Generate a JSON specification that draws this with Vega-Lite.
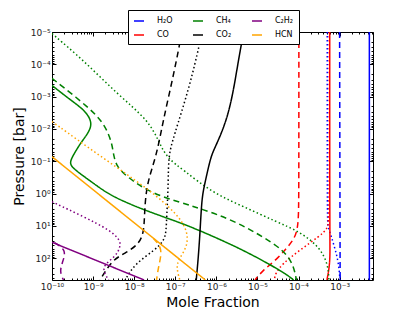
{
  "$schema": "https://vega.github.io/schema/vega-lite/v6.json",
  "width": 321,
  "height": 248,
  "autosize": {"type": "none"},
  "padding": {"left": 52, "top": 32, "right": 42, "bottom": 32},
  "background": "white",
  "config": {
    "view": {"stroke": "black", "strokeWidth": 1},
    "font": "DejaVu Sans",
    "axis": {"grid": false, "domain": false, "labelFont": "DejaVu Sans", "labelFontSize": 9, "labelColor": "#222222", "titleFont": "DejaVu Sans", "titleFontSize": 14, "titleFontWeight": "normal", "titleColor": "black", "tickColor": "black", "labelOverlap": false, "labelFlush": false, "labelBound": false}
  },
  "data": {"values": [
    {"s":"H₂O","m":"solid","i":1,"x":5.3e-3,"p":1e-5},
    {"s":"H₂O","m":"solid","i":2,"x":5.3e-3,"p":470},
    {"s":"H₂O","m":"dashed","i":1,"x":1.0e-3,"p":1e-5},
    {"s":"H₂O","m":"dashed","i":2,"x":1.03e-3,"p":470},
    {"s":"H₂O","m":"dotted","i":1,"x":5.0e-4,"p":1e-5},
    {"s":"H₂O","m":"dotted","i":2,"x":5.0e-4,"p":6},
    {"s":"H₂O","m":"dotted","i":3,"x":5.2e-4,"p":11},
    {"s":"H₂O","m":"dotted","i":4,"x":6.3e-4,"p":21},
    {"s":"H₂O","m":"dotted","i":5,"x":7.9e-4,"p":56},
    {"s":"H₂O","m":"dotted","i":6,"x":9.5e-4,"p":145},
    {"s":"H₂O","m":"dotted","i":7,"x":1.02e-3,"p":470},

    {"s":"CO","m":"dotted","i":1,"x":5.6e-4,"p":1e-5},
    {"s":"CO","m":"dotted","i":2,"x":5.6e-4,"p":6},
    {"s":"CO","m":"dotted","i":3,"x":5.2e-4,"p":12},
    {"s":"CO","m":"dotted","i":4,"x":3.2e-4,"p":21},
    {"s":"CO","m":"dotted","i":5,"x":1.07e-4,"p":56},
    {"s":"CO","m":"dotted","i":6,"x":4.0e-5,"p":150},
    {"s":"CO","m":"dotted","i":7,"x":2.7e-5,"p":300},
    {"s":"CO","m":"dotted","i":8,"x":2.6e-5,"p":470},
    {"s":"CO","m":"solid","i":1,"x":5.75e-4,"p":1e-5},
    {"s":"CO","m":"solid","i":2,"x":5.75e-4,"p":13.5},
    {"s":"CO","m":"solid","i":3,"x":5.9e-4,"p":89},
    {"s":"CO","m":"solid","i":4,"x":5.5e-4,"p":229},
    {"s":"CO","m":"solid","i":5,"x":4.9e-4,"p":470},
    {"s":"CO","m":"dashed","i":1,"x":1.02e-4,"p":1e-5},
    {"s":"CO","m":"dashed","i":2,"x":1.02e-4,"p":1.0},
    {"s":"CO","m":"dashed","i":3,"x":1.0e-4,"p":10},
    {"s":"CO","m":"dashed","i":4,"x":8.0e-5,"p":25},
    {"s":"CO","m":"dashed","i":5,"x":5.0e-5,"p":50},
    {"s":"CO","m":"dashed","i":6,"x":2.9e-5,"p":112},
    {"s":"CO","m":"dashed","i":7,"x":1.38e-5,"p":229},
    {"s":"CO","m":"dashed","i":8,"x":8.7e-6,"p":470},

    {"s":"CH₄","m":"solid","i":1,"x":1e-10,"p":4.5e-4},
    {"s":"CH₄","m":"solid","i":2,"x":2.8e-10,"p":1.26e-3},
    {"s":"CH₄","m":"solid","i":3,"x":6.2e-10,"p":2.6e-3},
    {"s":"CH₄","m":"solid","i":4,"x":9.5e-10,"p":5.9e-3},
    {"s":"CH₄","m":"solid","i":5,"x":8.2e-10,"p":1.2e-2},
    {"s":"CH₄","m":"solid","i":6,"x":4.9e-10,"p":2.75e-2},
    {"s":"CH₄","m":"solid","i":7,"x":3.2e-10,"p":6.9e-2},
    {"s":"CH₄","m":"solid","i":8,"x":2.6e-10,"p":0.12},
    {"s":"CH₄","m":"solid","i":9,"x":3.7e-10,"p":0.19},
    {"s":"CH₄","m":"solid","i":10,"x":1.05e-9,"p":0.49},
    {"s":"CH₄","m":"solid","i":11,"x":2.9e-9,"p":1.26},
    {"s":"CH₄","m":"solid","i":12,"x":2.45e-8,"p":3.8},
    {"s":"CH₄","m":"solid","i":13,"x":1.58e-7,"p":8.5},
    {"s":"CH₄","m":"solid","i":14,"x":9.1e-7,"p":22},
    {"s":"CH₄","m":"solid","i":15,"x":4.5e-6,"p":56},
    {"s":"CH₄","m":"solid","i":16,"x":1.9e-5,"p":150},
    {"s":"CH₄","m":"solid","i":17,"x":5.0e-5,"p":309},
    {"s":"CH₄","m":"solid","i":18,"x":7.6e-5,"p":470},
    {"s":"CH₄","m":"dashed","i":1,"x":1e-10,"p":2.7e-4},
    {"s":"CH₄","m":"dashed","i":2,"x":8.5e-10,"p":2.3e-3},
    {"s":"CH₄","m":"dashed","i":3,"x":1.95e-9,"p":7.4e-3},
    {"s":"CH₄","m":"dashed","i":4,"x":2.9e-9,"p":2.75e-2},
    {"s":"CH₄","m":"dashed","i":5,"x":3.16e-9,"p":6.9e-2},
    {"s":"CH₄","m":"dashed","i":6,"x":3.8e-9,"p":0.148},
    {"s":"CH₄","m":"dashed","i":7,"x":6.6e-9,"p":0.30},
    {"s":"CH₄","m":"dashed","i":8,"x":2.45e-8,"p":0.95},
    {"s":"CH₄","m":"dashed","i":9,"x":1.58e-7,"p":2.0},
    {"s":"CH₄","m":"dashed","i":10,"x":4.0e-7,"p":2.9},
    {"s":"CH₄","m":"dashed","i":11,"x":2.6e-6,"p":6.6},
    {"s":"CH₄","m":"dashed","i":12,"x":1.66e-5,"p":25},
    {"s":"CH₄","m":"dashed","i":13,"x":4.2e-5,"p":56},
    {"s":"CH₄","m":"dashed","i":14,"x":7.4e-5,"p":145},
    {"s":"CH₄","m":"dashed","i":15,"x":8.9e-5,"p":470},
    {"s":"CH₄","m":"dotted","i":1,"x":1e-10,"p":1.12e-5},
    {"s":"CH₄","m":"dotted","i":2,"x":5.9e-10,"p":7.6e-5},
    {"s":"CH₄","m":"dotted","i":3,"x":3.8e-9,"p":8.1e-4},
    {"s":"CH₄","m":"dotted","i":4,"x":2.24e-8,"p":5.4e-3},
    {"s":"CH₄","m":"dotted","i":5,"x":4.0e-8,"p":2.5e-2},
    {"s":"CH₄","m":"dotted","i":6,"x":6.3e-8,"p":7.9e-2},
    {"s":"CH₄","m":"dotted","i":7,"x":1.58e-7,"p":0.186},
    {"s":"CH₄","m":"dotted","i":8,"x":7.9e-7,"p":0.93},
    {"s":"CH₄","m":"dotted","i":9,"x":4.5e-6,"p":2.5},
    {"s":"CH₄","m":"dotted","i":10,"x":2.9e-5,"p":7.4},
    {"s":"CH₄","m":"dotted","i":11,"x":1.07e-4,"p":15},
    {"s":"CH₄","m":"dotted","i":12,"x":3.2e-4,"p":44},
    {"s":"CH₄","m":"dotted","i":13,"x":5.2e-4,"p":145},
    {"s":"CH₄","m":"dotted","i":14,"x":5.5e-4,"p":470},

    {"s":"CO₂","m":"solid","i":1,"x":4.6e-6,"p":1e-5},
    {"s":"CO₂","m":"solid","i":2,"x":3.3e-6,"p":1.05e-4},
    {"s":"CO₂","m":"solid","i":3,"x":2.5e-6,"p":8.9e-4},
    {"s":"CO₂","m":"solid","i":4,"x":1.74e-6,"p":5.9e-3},
    {"s":"CO₂","m":"solid","i":5,"x":1.0e-6,"p":3.1e-2},
    {"s":"CO₂","m":"solid","i":6,"x":7.6e-7,"p":6.3e-2},
    {"s":"CO₂","m":"solid","i":7,"x":6.2e-7,"p":0.186},
    {"s":"CO₂","m":"solid","i":8,"x":5.0e-7,"p":0.63},
    {"s":"CO₂","m":"solid","i":9,"x":4.4e-7,"p":1.58},
    {"s":"CO₂","m":"solid","i":10,"x":4.0e-7,"p":17},
    {"s":"CO₂","m":"solid","i":11,"x":3.6e-7,"p":112},
    {"s":"CO₂","m":"solid","i":12,"x":3.24e-7,"p":470},
    {"s":"CO₂","m":"dashed","i":1,"x":1.45e-7,"p":1e-5},
    {"s":"CO₂","m":"dashed","i":2,"x":9.5e-8,"p":1.7e-4},
    {"s":"CO₂","m":"dashed","i":3,"x":5.0e-8,"p":5.9e-3},
    {"s":"CO₂","m":"dashed","i":4,"x":3.5e-8,"p":6.9e-2},
    {"s":"CO₂","m":"dashed","i":5,"x":2.0e-8,"p":0.49},
    {"s":"CO₂","m":"dashed","i":6,"x":1.78e-8,"p":4.1},
    {"s":"CO₂","m":"dashed","i":7,"x":1.74e-8,"p":13.5},
    {"s":"CO₂","m":"dashed","i":8,"x":1.38e-8,"p":35},
    {"s":"CO₂","m":"dashed","i":9,"x":6.0e-9,"p":71},
    {"s":"CO₂","m":"dashed","i":10,"x":2.9e-9,"p":112},
    {"s":"CO₂","m":"dashed","i":11,"x":1.48e-9,"p":470},
    {"s":"CO₂","m":"dotted","i":1,"x":4.6e-7,"p":1e-5},
    {"s":"CO₂","m":"dotted","i":2,"x":4.0e-7,"p":2.0e-5},
    {"s":"CO₂","m":"dotted","i":3,"x":2.3e-7,"p":4.4e-4},
    {"s":"CO₂","m":"dotted","i":4,"x":8.9e-8,"p":1.95e-2},
    {"s":"CO₂","m":"dotted","i":5,"x":6.8e-8,"p":6.9e-2},
    {"s":"CO₂","m":"dotted","i":6,"x":6.8e-8,"p":0.49},
    {"s":"CO₂","m":"dotted","i":7,"x":6.2e-8,"p":5.2},
    {"s":"CO₂","m":"dotted","i":8,"x":6.0e-8,"p":13.5},
    {"s":"CO₂","m":"dotted","i":9,"x":5.5e-8,"p":27.5},
    {"s":"CO₂","m":"dotted","i":10,"x":3.2e-8,"p":56},
    {"s":"CO₂","m":"dotted","i":11,"x":1.05e-8,"p":145},
    {"s":"CO₂","m":"dotted","i":12,"x":6.0e-9,"p":470},

    {"s":"C₂H₂","m":"solid","i":1,"x":1e-10,"p":32},
    {"s":"C₂H₂","m":"solid","i":2,"x":1.74e-8,"p":470},
    {"s":"C₂H₂","m":"dashed","i":1,"x":1.15e-10,"p":33},
    {"s":"C₂H₂","m":"dashed","i":2,"x":2.3e-10,"p":56},
    {"s":"C₂H₂","m":"dashed","i":3,"x":1.74e-10,"p":145},
    {"s":"C₂H₂","m":"dashed","i":4,"x":1.55e-10,"p":263},
    {"s":"C₂H₂","m":"dashed","i":5,"x":1.9e-10,"p":470},
    {"s":"C₂H₂","m":"dotted","i":1,"x":1e-10,"p":1.78},
    {"s":"C₂H₂","m":"dotted","i":2,"x":5.9e-10,"p":5.2},
    {"s":"C₂H₂","m":"dotted","i":3,"x":2.6e-9,"p":13.5},
    {"s":"C₂H₂","m":"dotted","i":4,"x":4.6e-9,"p":27.5},
    {"s":"C₂H₂","m":"dotted","i":5,"x":4.6e-9,"p":45},
    {"s":"C₂H₂","m":"dotted","i":6,"x":3.5e-9,"p":91},
    {"s":"C₂H₂","m":"dotted","i":7,"x":1.5e-9,"p":186},
    {"s":"C₂H₂","m":"dotted","i":8,"x":2.4e-9,"p":470},

    {"s":"HCN","m":"solid","i":1,"x":1e-10,"p":0.072},
    {"s":"HCN","m":"solid","i":2,"x":5.4e-7,"p":470},
    {"s":"HCN","m":"dashed","i":1,"x":2.95e-8,"p":24.5},
    {"s":"HCN","m":"dashed","i":2,"x":5.0e-8,"p":50},
    {"s":"HCN","m":"dashed","i":3,"x":3.9e-8,"p":182},
    {"s":"HCN","m":"dashed","i":4,"x":3.5e-8,"p":470},
    {"s":"HCN","m":"dotted","i":1,"x":1e-10,"p":5.9e-3},
    {"s":"HCN","m":"dotted","i":2,"x":1.48e-9,"p":6.9e-2},
    {"s":"HCN","m":"dotted","i":3,"x":2.45e-8,"p":0.78},
    {"s":"HCN","m":"dotted","i":4,"x":1.07e-7,"p":4.1},
    {"s":"HCN","m":"dotted","i":5,"x":2.0e-7,"p":13.5},
    {"s":"HCN","m":"dotted","i":6,"x":2.0e-7,"p":44},
    {"s":"HCN","m":"dotted","i":7,"x":1.17e-7,"p":112},
    {"s":"HCN","m":"dotted","i":8,"x":1.07e-7,"p":204},
    {"s":"HCN","m":"dotted","i":9,"x":1.29e-7,"p":470}
  ]},
  "layer": [
    {
      "mark": {"type": "line", "clip": true, "interpolate": "basis"},
      "encoding": {
        "x": {"field": "x", "type": "quantitative", "scale": {"type": "log", "domain": [1e-10, 6.5e-3], "nice": false},
          "axis": {"orient": "bottom", "title": "Mole Fraction", "titlePadding": 2,
            "values": [1e-10,2e-10,3e-10,4e-10,5e-10,6e-10,7e-10,8e-10,9e-10,1e-9,2e-9,3e-9,4e-9,5e-9,6e-9,7e-9,8e-9,9e-9,1e-8,2e-8,3e-8,4e-8,5e-8,6e-8,7e-8,8e-8,9e-8,1e-7,2e-7,3e-7,4e-7,5e-7,6e-7,7e-7,8e-7,9e-7,1e-6,2e-6,3e-6,4e-6,5e-6,6e-6,7e-6,8e-6,9e-6,1e-5,2e-5,3e-5,4e-5,5e-5,6e-5,7e-5,8e-5,9e-5,1e-4,2e-4,3e-4,4e-4,5e-4,6e-4,7e-4,8e-4,9e-4,1e-3,2e-3,3e-3,4e-3,5e-3,6e-3],
            "labelExpr": "abs(log(datum.value)/LN10 - round(log(datum.value)/LN10)) < 0.001 ? ['10⁻¹⁰','10⁻⁹','10⁻⁸','10⁻⁷','10⁻⁶','10⁻⁵','10⁻⁴','10⁻³'][round(log(datum.value)/LN10)+10] : ''",
            "tickSize": {"condition": {"test": "abs(log(datum.value)/LN10 - round(log(datum.value)/LN10)) < 0.001", "value": -4}, "value": -2},
            "labelPadding": 6}},
        "y": {"field": "p", "type": "quantitative", "scale": {"type": "log", "domain": [1e-5, 470], "nice": false, "reverse": true},
          "axis": {"orient": "left", "title": "Pressure [bar]", "titlePadding": 4,
            "values": [1e-5,2e-5,3e-5,4e-5,5e-5,6e-5,7e-5,8e-5,9e-5,1e-4,2e-4,3e-4,4e-4,5e-4,6e-4,7e-4,8e-4,9e-4,1e-3,2e-3,3e-3,4e-3,5e-3,6e-3,7e-3,8e-3,9e-3,1e-2,2e-2,3e-2,4e-2,5e-2,6e-2,7e-2,8e-2,9e-2,0.1,0.2,0.3,0.4,0.5,0.6,0.7,0.8,0.9,1,2,3,4,5,6,7,8,9,10,20,30,40,50,60,70,80,90,100,200,300,400],
            "labelExpr": "abs(log(datum.value)/LN10 - round(log(datum.value)/LN10)) < 0.001 ? ['10⁻⁵','10⁻⁴','10⁻³','10⁻²','10⁻¹','10⁰','10¹','10²'][round(log(datum.value)/LN10)+5] : ''",
            "tickSize": {"condition": {"test": "abs(log(datum.value)/LN10 - round(log(datum.value)/LN10)) < 0.001", "value": -4}, "value": -2},
            "labelPadding": 6}},
        "color": {"field": "s", "type": "nominal",
          "scale": {"domain": ["H₂O","CH₄","C₂H₂","CO","CO₂","HCN"], "range": ["#0000ff","#008000","#800080","#ff0000","#000000","#ffa500"]},
          "legend": {"title": null, "orient": "none", "legendX": 76, "legendY": -22, "columns": 3, "direction": "horizontal", "symbolType": "stroke", "symbolStrokeWidth": 1.5, "symbolSize": 100, "labelFont": "DejaVu Sans", "labelFontSize": 8, "labelColor": "black", "strokeColor": "black", "fillColor": "white", "padding": 5, "columnPadding": 17, "rowPadding": 4, "labelOffset": 12}},
        "strokeDash": {"field": "m", "type": "nominal", "scale": {"domain": ["solid","dashed","dotted"], "range": [[1,0],[6,4],[1.5,2.5]]}, "legend": null},
        "strokeWidth": {"field": "m", "type": "nominal", "scale": {"domain": ["solid","dashed","dotted"], "range": [1.5,1.5,1]}, "legend": null},
        "order": {"field": "i", "type": "quantitative"}
      }
    },
    {
      "mark": {"type": "line", "opacity": 0},
      "encoding": {
        "x": {"field": "x", "type": "quantitative",
          "axis": {"orient": "top", "title": null, "labels": false,
            "values": [1e-10,2e-10,3e-10,4e-10,5e-10,6e-10,7e-10,8e-10,9e-10,1e-9,2e-9,3e-9,4e-9,5e-9,6e-9,7e-9,8e-9,9e-9,1e-8,2e-8,3e-8,4e-8,5e-8,6e-8,7e-8,8e-8,9e-8,1e-7,2e-7,3e-7,4e-7,5e-7,6e-7,7e-7,8e-7,9e-7,1e-6,2e-6,3e-6,4e-6,5e-6,6e-6,7e-6,8e-6,9e-6,1e-5,2e-5,3e-5,4e-5,5e-5,6e-5,7e-5,8e-5,9e-5,1e-4,2e-4,3e-4,4e-4,5e-4,6e-4,7e-4,8e-4,9e-4,1e-3,2e-3,3e-3,4e-3,5e-3,6e-3],
            "tickSize": {"condition": {"test": "abs(log(datum.value)/LN10 - round(log(datum.value)/LN10)) < 0.001", "value": -4}, "value": -2}}},
        "y": {"field": "p", "type": "quantitative",
          "axis": {"orient": "right", "title": null, "labels": false,
            "values": [1e-5,2e-5,3e-5,4e-5,5e-5,6e-5,7e-5,8e-5,9e-5,1e-4,2e-4,3e-4,4e-4,5e-4,6e-4,7e-4,8e-4,9e-4,1e-3,2e-3,3e-3,4e-3,5e-3,6e-3,7e-3,8e-3,9e-3,1e-2,2e-2,3e-2,4e-2,5e-2,6e-2,7e-2,8e-2,9e-2,0.1,0.2,0.3,0.4,0.5,0.6,0.7,0.8,0.9,1,2,3,4,5,6,7,8,9,10,20,30,40,50,60,70,80,90,100,200,300,400],
            "tickSize": {"condition": {"test": "abs(log(datum.value)/LN10 - round(log(datum.value)/LN10)) < 0.001", "value": -4}, "value": -2}}},
        "detail": {"field": "s"},
        "order": {"field": "i", "type": "quantitative"}
      }
    }
  ],
  "resolve": {"axis": {"x": "independent", "y": "independent"}}
}
